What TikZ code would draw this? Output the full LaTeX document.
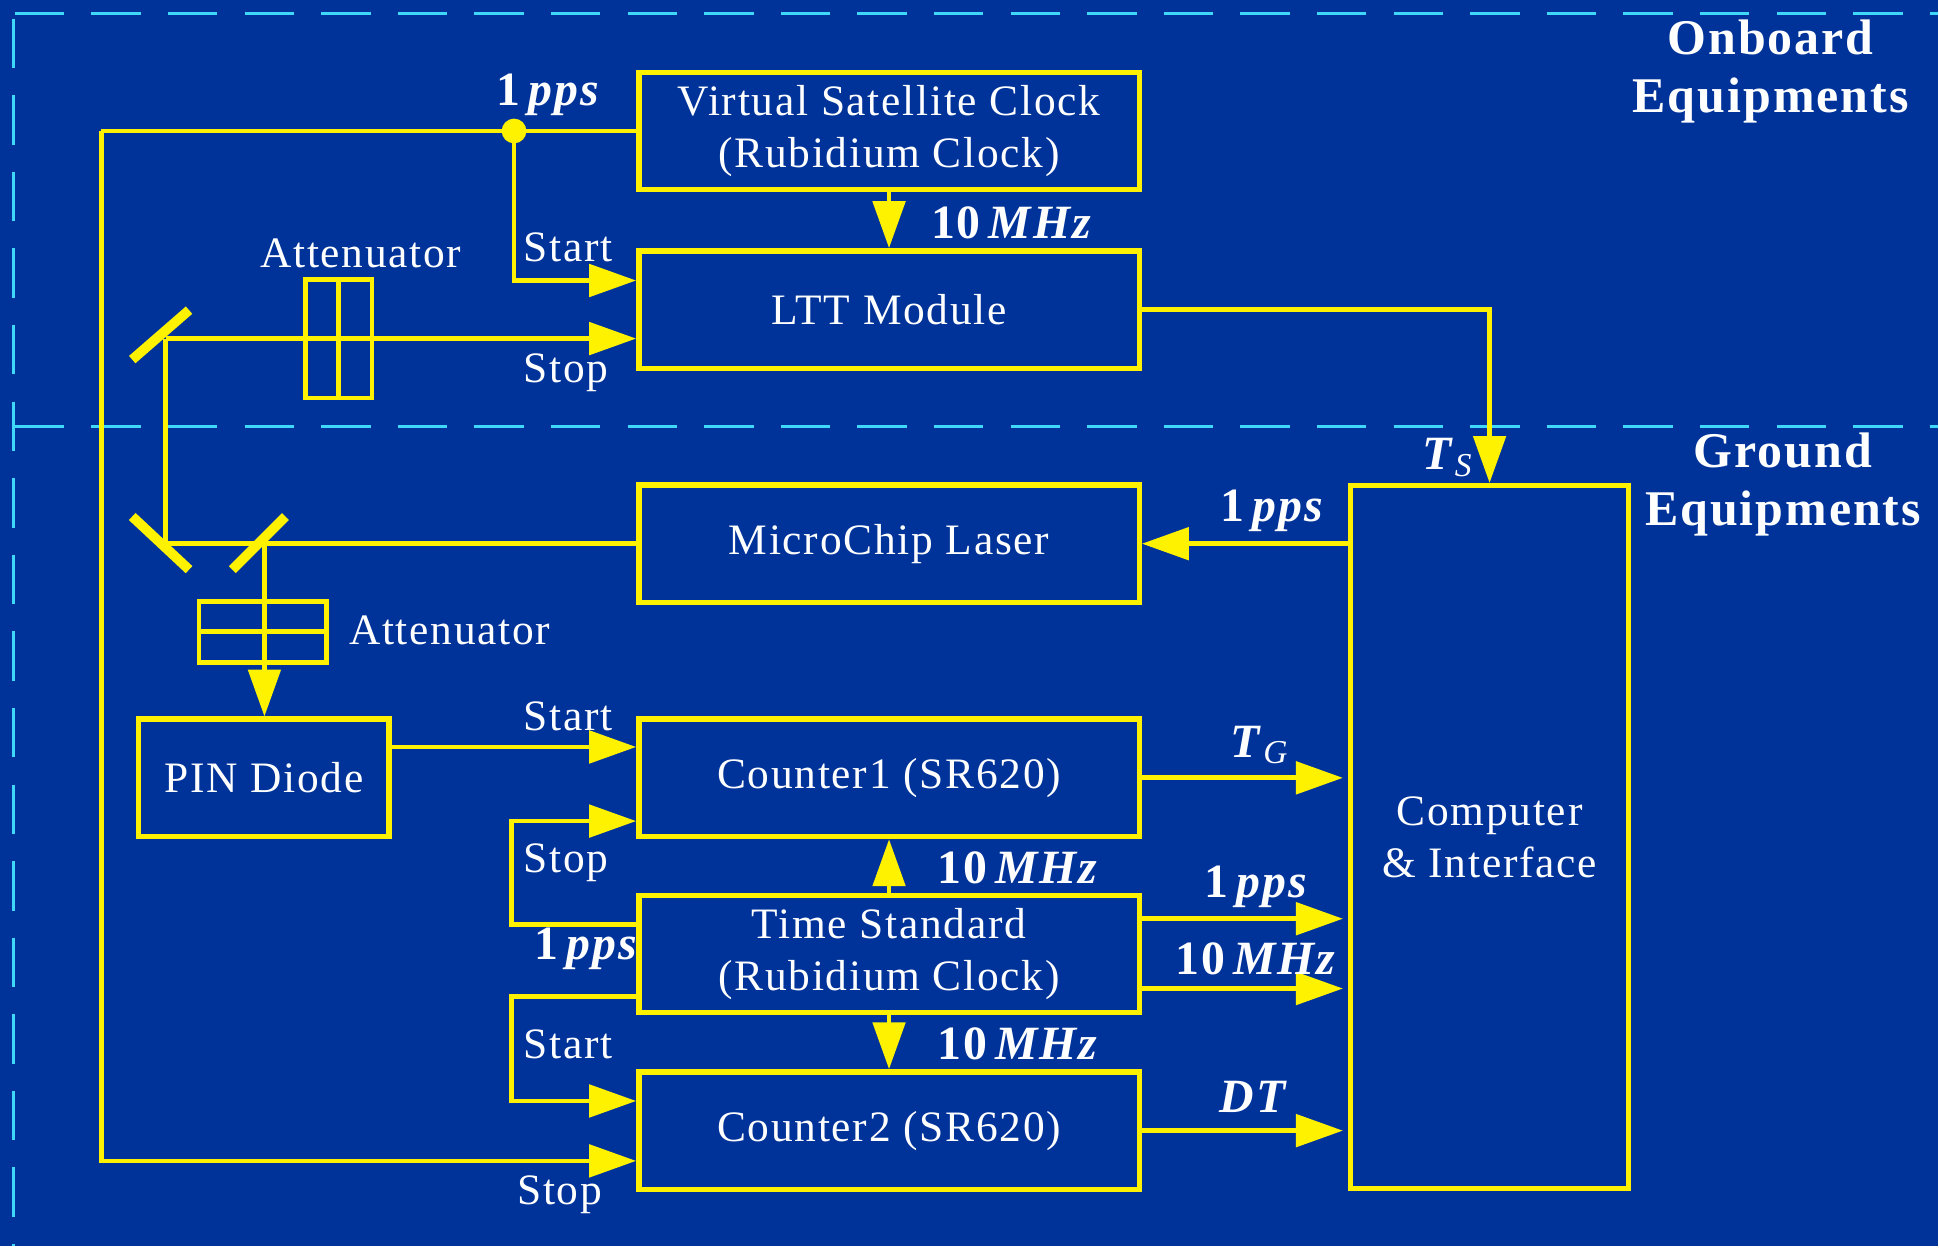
\documentclass[tikz,border=0pt]{standalone}
\usepackage{fontspec}
\setmainfont[LetterSpace=4]{Liberation Serif}
\usetikzlibrary{arrows.meta,positioning}
\definecolor{bgblue}{HTML}{003399}
\definecolor{dashcyan}{HTML}{40D8F8}
\newcommand{\ppslbl}{\textbf{1\,\textit{pps}}}
\newcommand{\mhzlbl}{\textbf{10\,\textit{MHz}}}
\tikzset{
  blk/.style={draw=yellow, line width=2.5pt, text=white, align=center,
    minimum width=8.1cm, minimum height=1.9cm, font=\fontsize{20}{24}\selectfont},
  wire/.style={draw=yellow, line width=2.2pt},
  sig/.style={wire, -{Triangle[length=0.76cm,width=0.52cm]}},
  mirror/.style={draw=yellow, line width=4.5pt},
  zone/.style={draw=dashcyan, line width=1.4pt, dash pattern=on 0.8cm off 0.44cm},
  lbl/.style={text=white, inner sep=0pt, font=\fontsize{20}{24}\selectfont},
  val/.style={lbl, font=\fontsize{22}{26}\selectfont},
  big/.style={text=white, inner sep=0pt, align=center, font=\fontsize{23}{27}\selectfont\bfseries}
}

\begin{document}
\begin{tikzpicture}[x=0.02cm, y=-0.02cm]
\fill[bgblue] (0,0) rectangle (1568,1008);
\draw[zone] (12,11) -- (1568,11);
\draw[zone] (12,345) -- (1568,345);
\draw[zone] (11,15) -- (11,1008);

\node[big] (onboard) at (1433,58) {Onboard\\Equipments};
\node[big] (ground) at (1443,392) {Ground\\Equipments};

\node[blk] (vsc) at (719.5,106) {Virtual Satellite Clock\\(Rubidium Clock)};
\node[blk] (ltt) at (719.5,250.5) {LTT Module};
\node[blk] (laser) at (719.5,440) {MicroChip Laser};
\node[blk] (cnt1) at (719.5,629.5) {Counter1 (SR620)};
\node[blk] (tstd) at (719.5,772) {Time Standard\\(Rubidium Clock)};
\node[blk] (cnt2) at (719.5,915) {Counter2 (SR620)};
\node[blk, minimum width=4.05cm] (pin) at (213.5,629.5) {PIN Diode};
\node[blk, minimum width=4.5cm, minimum height=11.38cm] (comp) at (1205.5,677.5)
  {Computer\\\& Interface};

% onboard part
\coordinate (jn) at (416,106);
\coordinate (lft) at (82,106);
\draw[wire] (vsc.west) -- (lft);
\draw[sig] (lft) |- ([yshift=-0.49cm]cnt2.west);
\draw[sig] (jn) |- ([yshift=0.47cm]ltt.west);
\fill[yellow] (jn) circle (0.2cm);
\draw[sig] (vsc.south) -- (ltt.north);
\draw[sig] (ltt.east) -| (comp.north);

% optics
\coordinate (m1) at (134,274);
\coordinate (m2) at (134,440);
\coordinate (m3) at (214,440);
\draw[sig] (m1) -- (ltt.west |- m1);
\draw[wire] (m1) -- (m2) -- (laser.west);
\draw[sig] (m3) -- (m3 |- pin.north);
\draw[mirror] (107,291) -- (153,251);
\draw[mirror] (107,418) -- (153,461);
\draw[mirror] (188,461) -- (231,418);
\draw[wire] (247,226) rectangle (301,322);
\draw[wire] (274,226) -- (274,322);
\draw[wire] (161,487) rectangle (264,536);
\draw[wire] (161,511) -- (264,511);
\node[lbl] (att1) at (292,205) {Attenuator};
\node[lbl] (att2) at (364,510) {Attenuator};

% ground part
\draw[sig] (comp.west |- laser.east) -- (laser.east);
\draw[sig] ([yshift=0.5cm]pin.east) -- ([yshift=0.5cm]cnt1.west);
\draw[sig] ([yshift=0.48cm]tstd.west) -- ++(-101,0) |- ([yshift=-0.7cm]cnt1.west);
\draw[sig] ([yshift=-0.69cm]tstd.west) -- ++(-101,0) |- ([yshift=0.48cm]cnt2.west);
\draw[sig] (tstd.north) -- (cnt1.south);
\draw[sig] (tstd.south) -- (cnt2.north);
\draw[sig, shorten >=0.08cm] (cnt1.east) -- (cnt1.east -| comp.west);
\draw[sig, shorten >=0.08cm] ([yshift=0.57cm]tstd.east) -- ([yshift=0.57cm]tstd.east -| comp.west);
\draw[sig, shorten >=0.08cm] ([yshift=-0.56cm]tstd.east) -- ([yshift=-0.56cm]tstd.east -| comp.west);
\draw[sig, shorten >=0.08cm] (cnt2.east) -- (cnt2.east -| comp.west);

\node[val] (pps1) at (444,77) {\ppslbl};
\node[lbl] (start1) at (460,200) {Start};
\node[lbl] (stop1) at (458,302) {Stop};
\node[val] (mhz1) at (819,180) {\mhzlbl};
\node[val] (ts) at (1172,370) {\textbf{\textit{T}}\textsubscript{\textit{S}}};
\node[val] (pps2) at (1030,413) {\ppslbl};
\node[lbl] (start2) at (460,580) {Start};
\node[val] (tg) at (1020,603) {\textbf{\textit{T}}\textsubscript{\textit{G}}};
\node[lbl] (stop2) at (458,698) {Stop};
\node[val] (mhz2) at (824,702) {\mhzlbl};
\node[val] (pps3) at (1017,718) {\ppslbl};
\node[val] (pps4) at (475,768) {\ppslbl};
\node[val] (mhz3) at (1017,776) {\mhzlbl};
\node[lbl] (start3) at (460,845) {Start};
\node[val] (mhz4) at (824,845) {\mhzlbl};
\node[val] (dt) at (1015,888) {\textbf{\textit{DT}}};
\node[lbl] (stop3) at (453,967) {Stop};
\end{tikzpicture}
\end{document}
